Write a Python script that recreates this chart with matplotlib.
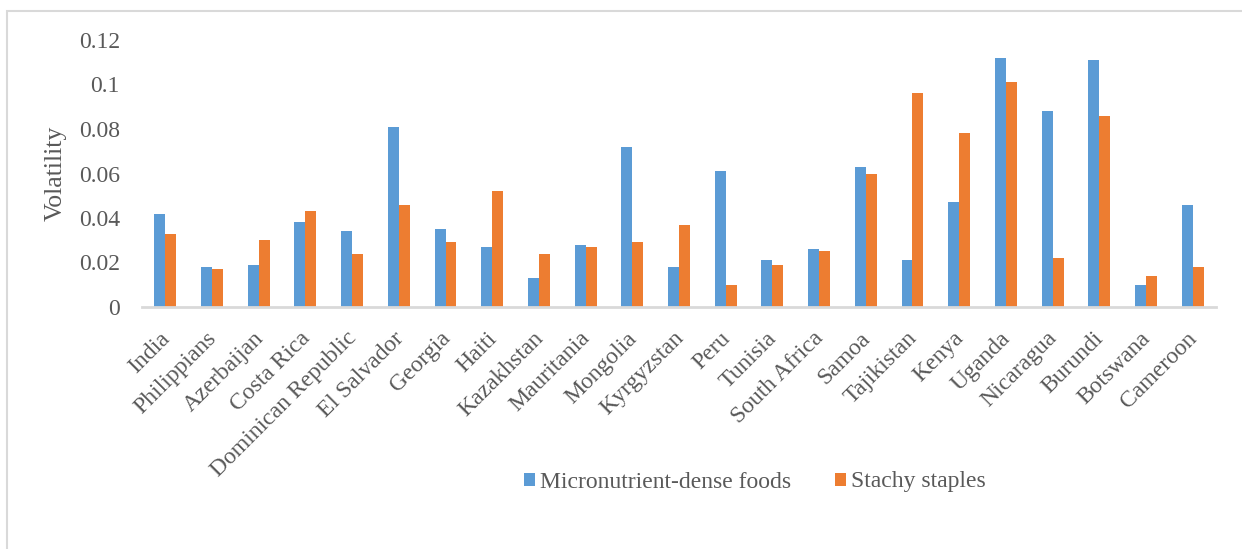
import matplotlib
matplotlib.use("Agg")
import matplotlib.pyplot as plt
import matplotlib.transforms as mtransforms
import numpy as np
from matplotlib.patches import Rectangle

countries = ["India", "Philippians", "Azerbaijan", "Costa Rica", "Dominican Republic",
             "El Salvador", "Georgia", "Haiti", "Kazakhstan", "Mauritania", "Mongolia",
             "Kyrgyzstan", "Peru", "Tunisia", "South Africa", "Samoa", "Tajikistan",
             "Kenya", "Uganda", "Nicaragua", "Burundi", "Botswana", "Cameroon"]
micronutrient = [0.042, 0.018, 0.019, 0.038, 0.034, 0.081, 0.035, 0.027, 0.013, 0.028,
                 0.072, 0.018, 0.061, 0.021, 0.026, 0.063, 0.021, 0.047, 0.112, 0.088,
                 0.111, 0.010, 0.046]
starchy = [0.033, 0.017, 0.030, 0.043, 0.024, 0.046, 0.029, 0.052, 0.024, 0.027,
           0.029, 0.037, 0.010, 0.019, 0.025, 0.060, 0.096, 0.078, 0.101, 0.022,
           0.086, 0.014, 0.018]
yticks = [0, 0.02, 0.04, 0.06, 0.08, 0.1, 0.12]
ytick_labels = ["0", "0.02", "0.04", "0.06", "0.08", "0.1", "0.12"]

BLUE = "#5B9BD5"
ORANGE = "#ED7D31"
TEXT = "#595959"
LINE = "#D9D9D9"

plt.rcParams["font.family"] = ["Liberation Serif", "DejaVu Serif"]

W, H = 1242, 549
fig = plt.figure(figsize=(W / 100, H / 100), dpi=100)

# chart area border
fig.patches.append(Rectangle((7 / W, -0.05), 1.1, 1 - 11 / H + 0.05,
                             transform=fig.transFigure, fill=False,
                             edgecolor=LINE, linewidth=1.5))

ax = fig.add_axes([142 / W, 1 - 307 / H, (1216 - 142) / W, (307 - 40) / H])

x = np.arange(len(countries))
bw = 0.235
ax.bar(x - bw / 2, micronutrient, bw, color=BLUE, label="Micronutrient-dense foods", linewidth=0)
ax.bar(x + bw / 2, starchy, bw, color=ORANGE, label="Stachy staples", linewidth=0)

ax.set_xlim(-0.5, len(countries) - 0.5)
ax.set_ylim(0, 0.12)
ax.set_yticks(yticks)
ax.set_yticklabels(ytick_labels)
ax.set_xticks(x)
ax.set_xticklabels(countries, rotation=45, ha="right", rotation_mode="anchor")

ax.tick_params(axis="y", length=0, pad=16, labelsize=17, labelcolor=TEXT)
ax.tick_params(axis="x", length=0, pad=15, labelsize=17, labelcolor=TEXT)

# nudge the rotated category labels slightly to the left
shift = mtransforms.ScaledTranslation(-6 / 100, 0, fig.dpi_scale_trans)
for lbl in ax.get_xticklabels():
    lbl.set_transform(lbl.get_transform() + shift)

for s in ["top", "right", "left"]:
    ax.spines[s].set_visible(False)
ax.spines["bottom"].set_color(LINE)
ax.spines["bottom"].set_linewidth(2)

fig.text(56 / W, 1 - 173.5 / H, "Volatility", rotation=90, ha="center", va="center",
         fontsize=18.5, color=TEXT)

leg = fig.legend(loc="center", bbox_to_anchor=(755 / W, 1 - 482 / H), ncol=2,
                 frameon=False, fontsize=17, handlelength=0.46, handleheight=0.46,
                 handletextpad=0.24, columnspacing=1.83, labelcolor=TEXT,
                 borderpad=0, borderaxespad=0)

fig.savefig("out.png", dpi=100)
